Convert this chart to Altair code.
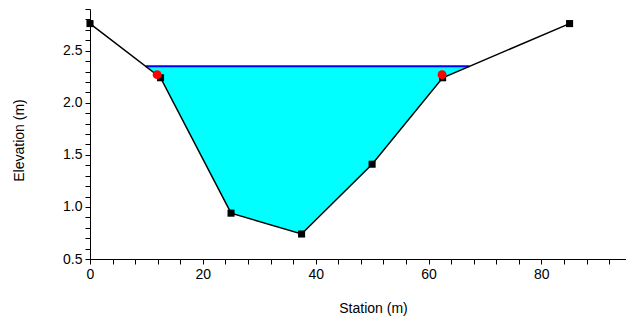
import altair as alt
import pandas as pd

# Ground profile of the cross section
station = [0.0, 12.5, 25.0, 37.5, 50.0, 62.5, 85.0]
elevation = [2.76, 2.24, 0.94, 0.74, 1.41, 2.24, 2.76]

# Bank stations
bank_station = [11.9, 62.4]
bank_elev = [2.27, 2.27]

# Water surface elevation
ws = 2.35

x_ticks = list(range(0, 96, 4))
y_ticks = [round(v / 10, 1) for v in range(5, 30)]

ground = pd.DataFrame({"station": station, "elev": elevation})
banks = pd.DataFrame({"station": bank_station, "elev": bank_elev})


def crossing(x0, y0, x1, y1, level):
    return x0 + (level - y0) * (x1 - x0) / (y1 - y0)


# where the water surface meets the left and right banks
left_edge = crossing(station[0], elevation[0], station[1], elevation[1], ws)
right_edge = crossing(station[5], elevation[5], station[6], elevation[6], ws)

wet_x = [left_edge] + station[1:6] + [right_edge]
wet_y = [ws] + elevation[1:6] + [ws]
water = pd.DataFrame({"station": wet_x, "elev": wet_y, "ws": [ws] * len(wet_x)})
surface = pd.DataFrame({"station": [left_edge, right_edge], "elev": [ws, ws]})

FONT = "Liberation Sans"

common_axis = dict(
    grid=False,
    tickSize=5,
    tickCount=60,
    tickColor="black",
    domainColor="black",
    labelColor="black",
    titleColor="black",
    labelFont=FONT,
    titleFont=FONT,
    labelFontSize=14,
    titleFontSize=14,
    titleFontWeight="normal",
    labelOverlap=False,
    labelFlush=False,
)

x_enc = alt.X(
    "station:Q",
    scale=alt.Scale(domain=[0, 95], nice=False, zero=False),
    axis=alt.Axis(
        title="Station (m)",
        values=x_ticks,
        labelExpr="datum.value % 20 == 0 ? format(datum.value, 'd') : ''",
        labelPadding=3,
        titlePadding=20,
        titleX=283,
        **common_axis,
    ),
)
y_enc = alt.Y(
    "elev:Q",
    scale=alt.Scale(domain=[0.5, 2.9], nice=False, zero=False),
    axis=alt.Axis(
        title="Elevation (m)",
        values=y_ticks,
        labelExpr="abs(datum.value * 2 - round(datum.value * 2)) < 0.001 ? format(datum.value, '.1f') : ''",
        labelPadding=3,
        titlePadding=36,
        titleY=131,
        **common_axis,
    ),
)

fill = alt.Chart(water).mark_area(color="#00FFFF", opacity=1).encode(
    x=x_enc, y=y_enc, y2="ws:Q"
)
wsl = alt.Chart(surface).mark_line(color="#0000FF", strokeWidth=2).encode(
    x="station:Q", y="elev:Q"
)
ground_line = alt.Chart(ground).mark_line(color="black", strokeWidth=1.5).encode(
    x="station:Q", y="elev:Q"
)
ground_pts = alt.Chart(ground).mark_square(color="black", size=50, opacity=1).encode(
    x="station:Q", y="elev:Q"
)
bank_pts = alt.Chart(banks).mark_circle(color="#FF0000", size=80, opacity=1).encode(
    x="station:Q", y="elev:Q"
)

chart = (
    alt.layer(fill, wsl, ground_line, ground_pts, bank_pts)
    .properties(
        width=536,
        height=250,
        autosize=alt.AutoSizeParams(type="none"),
        padding={"left": 90, "top": 9, "right": 0, "bottom": 66},
        background="white",
    )
    .configure_view(stroke=None)
)

chart.save("out.html", embed_options={"renderer": "svg", "actions": False})
